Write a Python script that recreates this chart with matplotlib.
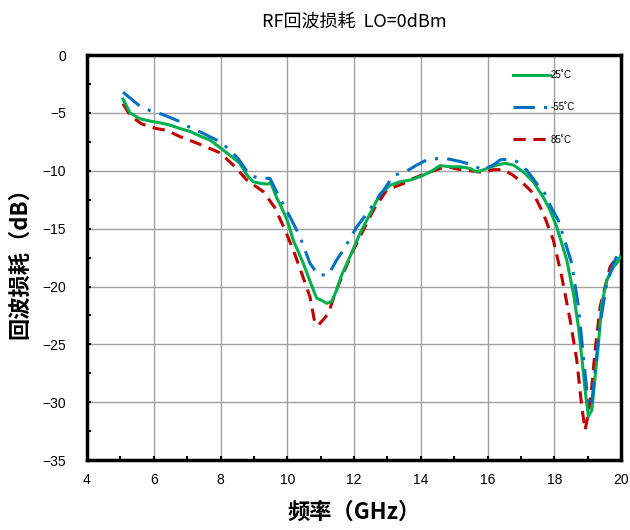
import numpy as np
import matplotlib as mpl
mpl.use('Agg')
import matplotlib.pyplot as plt
from matplotlib.ticker import MultipleLocator

plt.rcParams['font.family'] = ['Liberation Sans', 'Noto Sans CJK SC', 'DejaVu Sans']
plt.rcParams['axes.unicode_minus'] = True

# return loss vs frequency, three temperatures
freq_25 = [5.08, 5.29, 5.59, 5.89, 6.19, 6.49, 6.79, 7.09, 7.39, 7.69, 7.99, 8.28,
           8.58, 8.79, 8.98, 9.23, 9.43, 9.50, 9.68, 9.88, 10.0, 10.18, 10.48, 10.78,
           10.88, 11.03, 11.18, 11.33, 11.48, 11.63, 11.88, 12.18, 12.48, 12.78, 13.08,
           13.38, 13.68, 13.98, 14.28, 14.58, 14.88, 15.18, 15.48, 15.68, 15.98, 16.28,
           16.53, 16.77, 17.07, 17.37, 17.67, 17.87, 18.07, 18.37, 18.57, 18.72, 18.82,
           18.92, 19.02, 19.12, 19.22, 19.32, 19.42, 19.57, 19.77, 19.87, 19.97]
rl_25 = [-3.8, -5.0, -5.5, -5.7, -5.85, -6.05, -6.35, -6.6, -7.0, -7.35, -8.0, -8.65,
         -9.35, -10.35, -10.95, -11.1, -11.15, -11.0, -12.3, -13.5, -14.3, -16.0, -18.0,
         -20.3, -21.0, -21.2, -21.45, -21.3, -20.3, -19.0, -17.4, -15.4, -13.7, -12.0,
         -11.25, -10.95, -10.8, -10.5, -10.1, -9.55, -9.65, -9.65, -9.8, -10.1, -9.8,
         -9.5, -9.35, -9.5, -10.1, -10.95, -12.3, -13.4, -14.85, -17.7, -20.6, -23.5,
         -26.1, -28.95, -31.25, -30.7, -27.8, -24.9, -21.5, -19.45, -18.3, -18.0, -17.45]

freq_m55 = [5.08, 5.54, 5.89, 6.24, 6.79, 7.14, 7.44, 7.99, 8.28, 8.53, 8.88, 9.18,
            9.48, 9.73, 10.13, 10.38, 10.68, 10.93, 11.23, 11.48, 11.68, 11.88, 12.08,
            12.38, 12.68, 12.88, 13.18, 13.53, 13.88, 14.18, 14.48, 14.78, 15.18, 15.58,
            15.83, 16.17, 16.38, 16.68, 16.87, 17.17, 17.47, 17.7, 17.92, 18.12, 18.52,
            18.72, 18.87, 19.02, 19.12, 19.22, 19.37, 19.57, 19.77, 19.92]
rl_m55 = [-3.2, -4.3, -4.8, -5.1, -5.75, -6.35, -6.7, -7.5, -8.2, -8.95, -10.4, -10.65,
          -10.65, -12.1, -14.25, -15.7, -18.0, -19.0, -19.0, -17.7, -16.85, -15.85,
          -14.85, -13.7, -12.5, -11.7, -10.4, -10.1, -9.5, -9.05, -8.95, -8.95, -9.2,
          -9.5, -9.95, -9.5, -9.05, -9.0, -9.2, -9.95, -11.1, -11.9, -13.25, -14.3,
          -18.0, -21.75, -26.1, -30.4, -30.1, -27.2, -23.2, -19.7, -18.0, -17.1]

freq_85 = [5.08, 5.29, 5.64, 6.09, 6.39, 6.79, 7.29, 7.99, 8.38, 8.79, 9.28, 9.63,
           9.93, 10.18, 10.43, 10.68, 10.83, 10.93, 11.23, 11.43, 11.68, 11.98, 12.28,
           12.58, 12.98, 13.48, 13.78, 14.18, 14.58, 14.88, 15.18, 15.48, 15.87, 16.17,
           16.47, 16.77, 17.07, 17.37, 17.67, 17.97, 18.22, 18.47, 18.67, 18.82, 18.92,
           19.02, 19.12, 19.22, 19.37, 19.52, 19.67, 19.87, 19.97]
rl_85 = [-4.2, -5.2, -5.95, -6.35, -6.5, -7.05, -7.6, -8.45, -9.5, -10.8, -11.8, -13.2,
         -15.1, -16.85, -18.85, -20.9, -23.2, -23.35, -22.35, -20.6, -18.85, -16.85,
         -15.1, -13.4, -11.65, -11.1, -10.65, -10.2, -9.8, -9.7, -9.9, -10.0, -10.15,
         -9.9, -9.9, -10.4, -11.1, -11.95, -13.7, -16.0, -19.15, -22.9, -26.35, -30.4,
         -32.4, -30.95, -28.65, -25.5, -21.75, -20.0, -18.3, -17.45, -17.45]

cjk = ['Noto Sans CJK SC', 'DejaVu Sans']

fig = plt.figure(figsize=(6.3, 5.3), dpi=100)
ax = fig.add_axes([0.138, 0.132, 0.848, 0.764])

ax.plot(freq_25, rl_25, color='#00B050', lw=2.2, label='25˚C', zorder=3)
ax.plot(freq_m55, rl_m55, color='#0070C0', lw=2.2, dashes=(7, 3, 1, 3),
        label='-55˚C', zorder=4)
ax.plot(freq_85, rl_85, color='#C00000', lw=2.2, dashes=(4, 2.5),
        label='85˚C', zorder=2)

ax.set_xlim(4, 20)
ax.set_ylim(-35, 0)
ax.xaxis.set_major_locator(MultipleLocator(2))
ax.xaxis.set_minor_locator(MultipleLocator(1))
ax.yaxis.set_major_locator(MultipleLocator(5))
ax.yaxis.set_minor_locator(MultipleLocator(2.5))
ax.tick_params(which='both', direction='in', length=3, width=1.5, labelsize=10)
ax.tick_params(axis='x', pad=9)
ax.tick_params(axis='y', pad=15)
ax.grid(True, which='major', color='#a0a0a0', lw=1)
for s in ax.spines.values():
    s.set_linewidth(2.5)

ax.set_title('RF回波损耗  LO=0dBm', family=cjk, fontsize=13, pad=20)
ax.set_xlabel('频率（GHz）', family=cjk, fontsize=16, fontweight='bold',
              labelpad=10)
ax.set_ylabel('回波损耗（dB）', family=cjk, fontsize=16, fontweight='bold',
              labelpad=8)

leg = ax.legend(loc='upper right', bbox_to_anchor=(0.93, 0.985), frameon=False,
                fontsize=7, handlelength=3.8, handletextpad=0.1, labelspacing=2.3)

fig.savefig('out.png', dpi=100)
